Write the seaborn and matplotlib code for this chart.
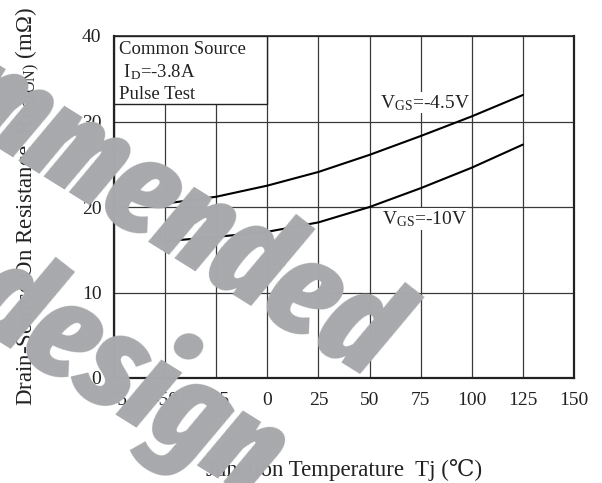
import matplotlib
matplotlib.use("Agg")
import matplotlib.pyplot as plt
from matplotlib.patches import Rectangle
import seaborn as sns
import pandas as pd

# ---- data ----
temps = [-50, -25, 0, 25, 50, 75, 100, 125]
r_vgs45 = [20.4, 21.2, 22.5, 24.1, 26.1, 28.3, 30.6, 33.1]
r_vgs10 = [16.0, 16.5, 17.1, 18.2, 20.0, 22.2, 24.6, 27.3]
series_labels = [r"V$_{\mathrm{GS}}$=-4.5V", r"V$_{\mathrm{GS}}$=-10V"]
x_ticks = [-75, -50, -25, 0, 25, 50, 75, 100, 125, 150]
y_ticks = [0, 10, 20, 30, 40]
cond_lines = ["Common Source", r" I$_{\mathrm{D}}$=-3.8A", "Pulse Test"]
x_title = "Junction Temperature  Tj (\u2103)"
y_title = "Drain-Source On Resistance  R$_{\\mathrm{DS(ON)}}$ (m\u03a9)"
watermark = ["Not recommended", "for new design"]

df = pd.DataFrame({
    "Tj": temps * 2,
    "R": r_vgs45 + r_vgs10,
    "VGS": [series_labels[0]] * len(temps) + [series_labels[1]] * len(temps),
})

sns.set_theme(style="white")
plt.rcParams["font.family"] = ["Liberation Serif", "DejaVu Serif"]
plt.rcParams["mathtext.fontset"] = "custom"
plt.rcParams["mathtext.rm"] = "Liberation Serif"
plt.rcParams["mathtext.it"] = "Liberation Serif:italic"
plt.rcParams["mathtext.bf"] = "Liberation Serif:bold"

fig = plt.figure(figsize=(6.02, 4.83), dpi=100)
ax = fig.add_axes([114 / 602, 1 - 378 / 483, 460 / 602, 342 / 483])

sns.lineplot(data=df, x="Tj", y="R", hue="VGS", palette=["black", "black"],
             linewidth=1.5, legend=False, ax=ax, zorder=4)

ax.set_xlim(-75, 150)
ax.set_ylim(0, 40)
ax.set_xticks(x_ticks)
ax.set_yticks(y_ticks)
ax.set_xticklabels([str(v) for v in x_ticks])
ax.set_yticklabels([str(v) for v in y_ticks])
ax.tick_params(axis="both", length=0, labelsize=14, colors="#222222")
ax.tick_params(axis="x", pad=10)
ax.tick_params(axis="y", pad=9)
ax.grid(True, color="#3a3a3a", linewidth=0.9)
for s in ax.spines.values():
    s.set_color("#222222")
    s.set_linewidth(1.6)
ax.spines["top"].set_linewidth(1.2)

ax.set_xlabel(x_title, fontsize=16.5, color="#222222", labelpad=36)
ax.set_ylabel(y_title, fontsize=16.5, color="#222222", labelpad=29)

# condition box
ax.add_patch(Rectangle((-75, 32), 75, 8, facecolor="white", edgecolor="#222222",
                       linewidth=1.0, zorder=3))
for txt, yy in zip(cond_lines, [38.4, 35.8, 33.1]):
    ax.text(-72.6, yy, txt, fontsize=13.5, va="center", ha="left", color="#222222", zorder=5)

# curve labels
ax.text(55, 32.2, series_labels[0], fontsize=14, va="center", ha="left", color="#222222",
        zorder=5, bbox=dict(facecolor="white", edgecolor="none", pad=0.5))
ax.text(56, 18.6, series_labels[1], fontsize=14, va="center", ha="left", color="#222222",
        zorder=5, bbox=dict(facecolor="white", edgecolor="none", pad=0.5))

# watermark
wm_kw = dict(fontsize=96, fontweight=900, fontstyle="italic",
             family=["Fira Sans Extra Condensed", "Barlow Condensed", "DejaVu Sans"],
             color="#a7a9ac", rotation=-32,
             rotation_mode="anchor", ha="right", va="baseline", zorder=10)
fig.text(367 / 602, 1 - 378 / 483, watermark[0], **wm_kw)
fig.text(253 / 602, 1 - 493 / 483, watermark[1], **wm_kw)

fig.savefig("out.png", dpi=100)
